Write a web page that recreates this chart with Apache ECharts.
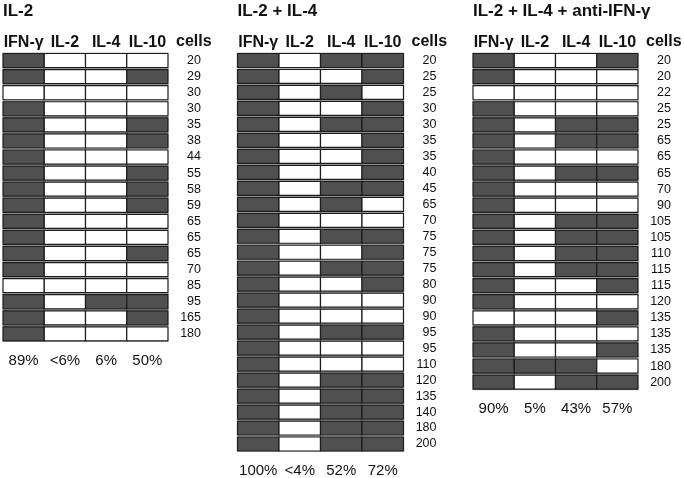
<!DOCTYPE html>
<html>
<head>
<meta charset="utf-8">
<script src="https://cdn.jsdelivr.net/npm/echarts@6/dist/echarts.min.js"></script>
<style>html,body{margin:0;padding:0;background:#fff}#c{width:684px;height:478px}</style>
</head>
<body>
<div id="c"></div>
<script>
// ---- data ----
const columns = ['IFN-γ', 'IL-2', 'IL-4', 'IL-10'];
const titles = ['IL-2', 'IL-2 + IL-4', 'IL-2 + IL-4 + anti-IFN-γ'];

// Panel 1: IL-2
const cells1 = [20, 29, 30, 30, 35, 38, 44, 55, 58, 59, 65, 65, 65, 70, 85, 95, 165, 180];
const ifn1   = [1, 1, 0, 1, 1, 1, 1, 1, 1, 1, 1, 1, 1, 1, 0, 1, 1, 1];
const il2_1  = [0, 0, 0, 0, 0, 0, 0, 0, 0, 0, 0, 0, 0, 0, 0, 0, 0, 0];
const il4_1  = [0, 0, 0, 0, 0, 0, 0, 0, 0, 0, 0, 0, 0, 0, 0, 1, 0, 0];
const il10_1 = [0, 1, 0, 0, 1, 1, 0, 1, 1, 1, 0, 0, 1, 0, 0, 1, 1, 0];
const pct1 = ['89%', '<6%', '6%', '50%'];

// Panel 2: IL-2 + IL-4
const cells2 = [20, 25, 25, 30, 30, 35, 35, 40, 45, 65, 70, 75, 75, 75, 80, 90, 90, 95, 95, 110, 120, 135, 140, 180, 200];
const ifn2   = [1, 1, 1, 1, 1, 1, 1, 1, 1, 1, 1, 1, 1, 1, 1, 1, 1, 1, 1, 1, 1, 1, 1, 1, 1];
const il2_2  = [0, 0, 0, 0, 0, 0, 0, 0, 0, 0, 0, 0, 0, 0, 0, 0, 0, 0, 0, 0, 0, 0, 0, 0, 0];
const il4_2  = [1, 0, 1, 0, 1, 0, 0, 0, 1, 1, 0, 1, 0, 1, 0, 0, 0, 1, 0, 0, 1, 1, 1, 1, 1];
const il10_2 = [1, 1, 0, 1, 1, 1, 1, 1, 1, 0, 0, 1, 1, 1, 1, 0, 0, 1, 0, 0, 1, 1, 1, 1, 1];
const pct2 = ['100%', '<4%', '52%', '72%'];

// Panel 3: IL-2 + IL-4 + anti-IFN-γ
const cells3 = [20, 20, 22, 25, 25, 65, 65, 65, 70, 90, 105, 105, 110, 115, 115, 120, 135, 135, 135, 180, 200];
const ifn3   = [1, 1, 0, 1, 1, 1, 1, 1, 1, 1, 1, 1, 1, 1, 1, 1, 0, 1, 1, 1, 1];
const il2_3  = [0, 0, 0, 0, 0, 0, 0, 0, 0, 0, 0, 0, 0, 0, 0, 0, 0, 0, 0, 1, 0];
const il4_3  = [0, 0, 0, 0, 1, 1, 0, 1, 0, 0, 1, 1, 1, 1, 0, 0, 0, 0, 0, 1, 1];
const il10_3 = [1, 0, 0, 0, 1, 1, 0, 1, 0, 0, 1, 1, 1, 1, 1, 0, 1, 0, 1, 0, 1];
const pct3 = ['90%', '5%', '43%', '57%'];

// ---- layout ----
const panels = [
  { cells: cells1, cols: [ifn1, il2_1, il4_1, il10_1], pct: pct1, left: 3, width: 165 },
  { cells: cells2, cols: [ifn2, il2_2, il4_2, il10_2], pct: pct2, left: 237.5, width: 166 },
  { cells: cells3, cols: [ifn3, il2_3, il4_3, il10_3], pct: pct3, left: 473, width: 165 }
];
const ROW_H = 16.08, TOP = 52.5;
const FONT = '"Liberation Sans", Arial, sans-serif';
const DARK = '#505050', EDGE = '#1c1c1c';

const chart = echarts.init(document.getElementById('c'), null, { renderer: 'canvas' });

const grid = [], xAxis = [], yAxis = [], series = [], title = [], graphic = [];
panels.forEach((p, i) => {
  grid.push({ left: p.left, width: p.width, top: TOP, height: p.cells.length * ROW_H,
    show: true, backgroundColor: '#bdbdbd', borderWidth: 0, containLabel: false });
  title.push({ text: titles[i], left: p.left, top: 3, padding: 0,
    textStyle: { fontFamily: FONT, fontWeight: 'bold', fontSize: 17, color: '#111' } });
  xAxis.push({ type: 'category', gridIndex: i, position: 'top', data: columns,
    axisLine: { show: false }, axisTick: { show: false }, splitLine: { show: false },
    axisLabel: { fontFamily: FONT, fontWeight: 'bold', fontSize: 16, color: '#111', margin: 2, interval: 0 } });
  xAxis.push({ type: 'category', gridIndex: i, position: 'bottom', data: columns,
    axisLine: { show: false }, axisTick: { show: false }, splitLine: { show: false },
    axisLabel: { fontFamily: FONT, fontSize: 15, color: '#111', margin: 11, interval: 0,
      formatter: (v, idx) => p.pct[idx] } });
  yAxis.push({ type: 'category', gridIndex: i, inverse: true, position: 'right',
    data: p.cells.map((c, k) => 'r' + k),
    axisLine: { show: false }, axisTick: { show: false }, splitLine: { show: false },
    axisLabel: { fontFamily: FONT, fontSize: 12.5, color: '#111', align: 'right', margin: 33, interval: 0,
      formatter: (v, idx) => String(p.cells[idx]) } });
  const data = [];
  p.cells.forEach((c, k) => p.cols.forEach((col, j) => data.push([j, k, col[k]])));
  series.push({
    type: 'custom', xAxisIndex: 2 * i, yAxisIndex: i, data: data,
    renderItem: function (params, api) {
      const c = api.coord([api.value(0), api.value(1)]);
      const s = api.size([1, 1]);
      return {
        type: 'rect',
        shape: { x: c[0] - s[0] / 2, y: c[1] - s[1] / 2 + 1, width: s[0], height: s[1] - 2 },
        style: { fill: api.value(2) ? DARK : '#ffffff', stroke: EDGE, lineWidth: 1.2 }
      };
    }
  });
  graphic.push({ type: 'text', left: p.left + p.width + 8, top: 34,
    style: { text: 'cells', font: 'bold 16px ' + FONT, fill: '#111' } });
});

chart.setOption({ animation: false, backgroundColor: '#fff', title, grid, xAxis, yAxis, series, graphic });
</script>
</body>
</html>
